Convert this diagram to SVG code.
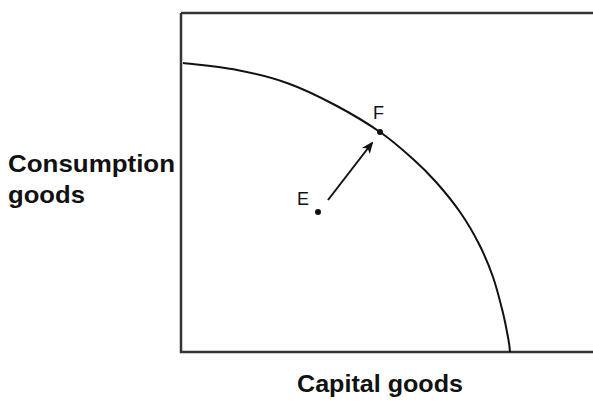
<svg xmlns="http://www.w3.org/2000/svg" width="593" height="405" viewBox="0 0 593 405">
<style>
.axis{fill:none;stroke:#333;stroke-width:2.5}
.curve{fill:none;stroke:#111;stroke-width:2}
.lbl{font-family:"Liberation Sans",Arial,sans-serif;font-weight:bold;font-size:24px;fill:#111}
.pt{font-family:"Liberation Sans",Arial,sans-serif;font-size:18px;fill:#111}
.dot{fill:#111}
.conn{fill:none;stroke:#111;stroke-width:2}
</style>
<defs>
<marker id="ah" viewBox="0 0 12 10" refX="10" refY="5" markerWidth="12" markerHeight="10" markerUnits="userSpaceOnUse" orient="auto">
<path d="M0,0 L12,5 L0,10 L3,5 z" fill="#111"/>
</marker>
</defs>
<rect width="593" height="405" fill="#fff"/>
<g id="axes">
<path class="axis" d="M181,13 H593 M181,13 V352 H593"/>
</g>
<g id="ppf">
<path class="curve" d="M183,63 C192,64.2 219.7,66.7 237,70 C254.3,73.3 270.7,77.2 287,83 C303.3,88.8 319.5,96.8 335,105 C350.5,113.2 367,123 380,132 C393,141 403.7,150.7 413,159 C422.3,167.3 428.2,173.2 436,182 C443.8,190.8 452.8,201.7 460,212 C467.2,222.3 473.5,233.2 479,244 C484.5,254.8 489,265.5 493,277 C497,288.5 500.4,302.5 503,313 C505.6,323.5 507.3,333.7 508.5,340 C509.7,346.3 509.75,349.2 510,352"/>
</g>
<g id="nodeE">
<circle class="dot" cx="318" cy="212" r="3"/>
<text class="pt" x="297" y="205">E</text>
</g>
<g id="nodeF">
<circle class="dot" cx="380" cy="132" r="3"/>
<text class="pt" x="373" y="119">F</text>
</g>
<g id="connectors">
<path class="conn" d="M328,200 L372,143" marker-end="url(#ah)"/>
</g>
<g id="labels">
<text class="lbl" x="8" y="172" textLength="167" lengthAdjust="spacingAndGlyphs">Consumption</text>
<text class="lbl" x="8" y="203" textLength="77" lengthAdjust="spacingAndGlyphs">goods</text>
<text class="lbl" x="297" y="392" textLength="166" lengthAdjust="spacingAndGlyphs">Capital goods</text>
</g>
</svg>
